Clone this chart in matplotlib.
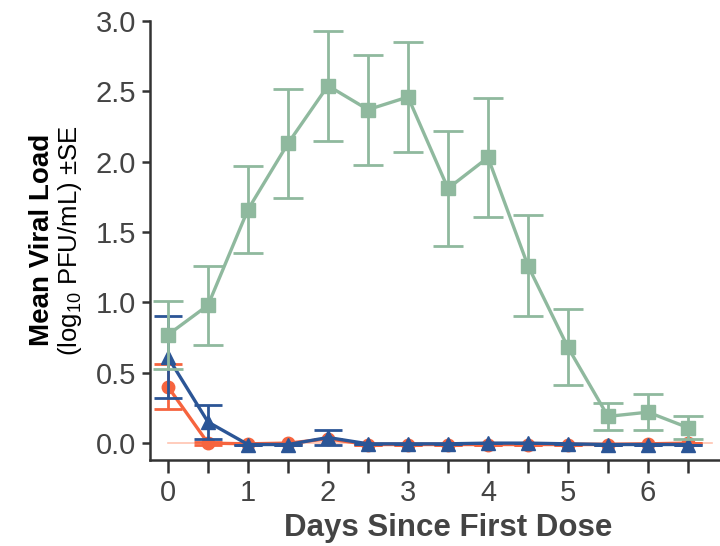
import matplotlib
matplotlib.use("Agg")
import matplotlib.pyplot as plt
import numpy as np

plt.rcParams['font.family'] = ['Liberation Sans', 'DejaVu Sans']
plt.rcParams['mathtext.fontset'] = 'custom'
plt.rcParams['mathtext.rm'] = 'Liberation Sans'
plt.rcParams['mathtext.it'] = 'Liberation Sans:italic'
plt.rcParams['mathtext.bf'] = 'Liberation Sans:bold'

days = [0, 0.5, 1, 1.5, 2, 2.5, 3, 3.5, 4, 4.5, 5, 5.5, 6, 6.5]

green_mean = [0.77, 0.98, 1.66, 2.13, 2.54, 2.37, 2.46, 1.81, 2.03, 1.26, 0.68, 0.19, 0.22, 0.11]
green_se = [0.24, 0.28, 0.31, 0.39, 0.39, 0.39, 0.39, 0.41, 0.42, 0.36, 0.27, 0.095, 0.13, 0.08]

blue_mean = [0.61, 0.15, -0.01, -0.01, 0.04, -0.005, -0.005, -0.005, 0.0, 0.0, -0.005, -0.01, -0.01, -0.01]
blue_se = [0.29, 0.12, 0.0, 0.0, 0.05, 0.0, 0.0, 0.0, 0.0, 0.0, 0.0, 0.0, 0.0, 0.0]

orange_mean = [0.40, 0.0, -0.005, 0.0, 0.03, -0.01, -0.01, -0.01, -0.01, -0.01, -0.01, -0.01, -0.005, 0.0]
orange_se = [0.16, 0.01, 0.0, 0.0, 0.0, 0.0, 0.0, 0.0, 0.0, 0.0, 0.0, 0.0, 0.0, 0.0]

ref_x = [0, 6.8]
ref_y = [0, 0]

green = '#8fb99e'
blue = '#2b5596'
orange = '#f6643e'
gray = '#444444'

fig = plt.figure(figsize=(7.2, 5.46), dpi=100)
ax = fig.add_axes([150/720, 86/546, 582/720, 439/546])

ax.plot(ref_x, ref_y, color='#ffc4b0', lw=1.2, zorder=1)

ax.errorbar(days, orange_mean, yerr=orange_se, color=orange, marker='o', ms=9,
            lw=2.4, elinewidth=2, capsize=10, capthick=2, zorder=2)
ax.errorbar(days, blue_mean, yerr=blue_se, color=blue, marker='^', ms=10,
            lw=2.4, elinewidth=2, capsize=10, capthick=2, zorder=3)
ax.errorbar(days, green_mean, yerr=green_se, color=green, marker='s', ms=10,
            lw=2.4, elinewidth=2, capsize=11, capthick=2, zorder=4)

ax.set_xlim(-0.225, 7.05)
ax.set_ylim(-0.12, 3.0)

ax.set_xticks(np.arange(0, 8, 1))
ax.set_xticks(np.arange(0.5, 7, 1), minor=True)
ax.set_yticks(np.arange(0, 3.01, 0.5))
ax.set_yticklabels([f"{v:.1f}" for v in np.arange(0, 3.01, 0.5)])

for s in ['top', 'right']:
    ax.spines[s].set_visible(False)
for s in ['left', 'bottom']:
    ax.spines[s].set_color('#333333')
    ax.spines[s].set_linewidth(1.8)

ax.tick_params(axis='x', which='both', direction='out', length=9, width=1.8,
               color='#333333', labelsize=21, labelcolor=gray, pad=5)
ax.tick_params(axis='y', direction='out', length=6, width=1.8,
               color='#333333', labelsize=21, labelcolor=gray, pad=4)

fig.text(448/720, 1 - 528/546, 'Days Since First Dose', ha='center', va='center',
         fontsize=22.5, fontweight='bold', color=gray)
fig.text(42/720, 1 - 240/546, 'Mean Viral Load', rotation=90, ha='center', va='center',
         fontsize=20, fontweight='bold', color='black')
fig.text(70/720, 1 - 241/546, r'(log$_{10}$ PFU/mL) ±SE', rotation=90, ha='center',
         va='center', fontsize=18.5, color='black')

fig.savefig('out.png', dpi=100)
